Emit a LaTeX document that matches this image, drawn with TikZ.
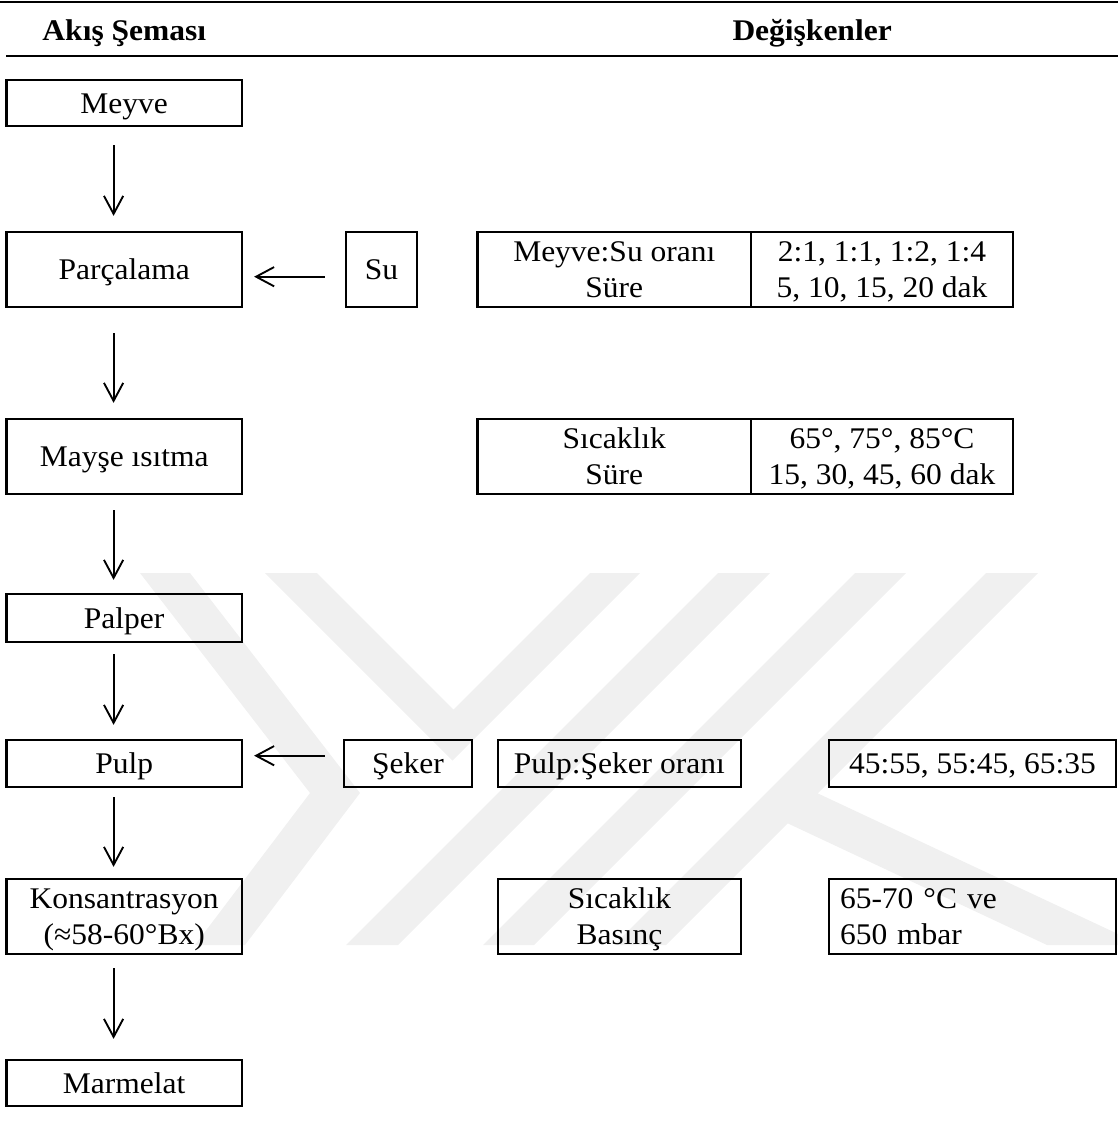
\documentclass[tikz,border=0pt]{standalone}
\usepackage{fontspec}
\setmainfont{Liberation Serif}[FakeStretch=1.05]
\usetikzlibrary{arrows.meta}
\newcommand{\mystrut}{\rule[-0.216em]{0pt}{1.107em}}
\begin{document}
\begin{tikzpicture}[x=0.4pt,y=-0.4pt,
  font=\fontsize{12pt}{14.64pt}\selectfont,
  box/.style={draw,line width=0.9pt,inner sep=0pt,align=center},
  sz/.style 2 args={minimum width=#1*0.4pt,minimum height=#2*0.4pt},
  arr/.style={line width=0.75pt,-{Straight Barb[length=7.2pt,width=7.7pt]}},
  wm/.style={fill=black!6,draw=none},
  rulel/.style={line width=0.9pt},
  head/.style={anchor=base west,inner sep=0pt,font=\fontsize{12pt}{14.64pt}\selectfont\bfseries}]
\useasboundingbox (0,0) rectangle (1118,1128);
% watermark
\fill[wm] (140,573) -- (190,573) -- (360,793) -- (245,945) -- (195,945) -- (310,793) -- cycle;
\fill[wm] (265,573) -- (317,573) -- (453.5,709.5) -- (590,573) -- (640,573) -- (452.5,760.5) -- cycle;
\fill[wm] (718,573) -- (770,573) -- (398,945) -- (346,945) -- cycle;
\fill[wm] (855,573) -- (906,573) -- (534,945) -- (483,945) -- cycle;
\fill[wm] (986,573) -- (1038,573) -- (666,945) -- (614,945) -- cycle;
\fill[wm] (817,793) -- (1118,934) -- (1118,945) -- (1047,945) -- (787,823) -- cycle;
% header
\draw[rulel] (0,1.7) -- (1118,1.7);
\draw[rulel] (6.4,56) -- (1118,56);
\node[head] (h1) at (42,40) {Akış Şeması};
\node[head] (h2) at (732,40) {Değişkenler};
% nodes
\node[box,sz={235.6}{46}] (meyve) at (124.2,103) {\mystrut Meyve};
\node[box,sz={235.6}{75}] (parc) at (124.2,269.5) {\mystrut Parçalama};
\node[box,sz={71}{75}] (su) at (381.5,269.5) {\mystrut Su};
\node[box,sz={273.4}{75}] (t1a) at (614.3,269.5) {\mystrut Meyve:Su oranı\\\mystrut Süre};
\node[box,sz={262}{75}] (t1b) at (882,269.5) {\mystrut 2:1, 1:1, 1:2, 1:4\\\mystrut 5, 10, 15, 20 dak};
\node[box,sz={235.6}{75}] (mayse) at (124.2,456.5) {\mystrut Mayşe ısıtma};
\node[box,sz={273.4}{75}] (t2a) at (614.3,456.5) {\mystrut Sıcaklık\\\mystrut Süre};
\node[box,sz={262}{75}] (t2b) at (882,456.5) {\mystrut 65°, 75°, 85°C\\\mystrut 15, 30, 45, 60 dak};
\node[box,sz={235.6}{48}] (palper) at (124.2,618) {\mystrut Palper};
\node[box,sz={235.6}{47}] (pulp) at (124.2,763.5) {\mystrut Pulp};
\node[box,sz={128}{47}] (seker) at (408,763.5) {\mystrut Şeker};
\node[box,sz={243.2}{47}] (pso) at (619.4,763.5) {\mystrut Pulp:Şeker oranı};
\node[box,sz={287}{47}] (r45) at (972.5,763.5) {\mystrut 45:55, 55:45, 65:35};
\node[box,sz={235.6}{75}] (kons) at (124.2,916.5) {\mystrut Konsantrasyon\\\mystrut (≈58-60°Bx)};
\node[box,sz={243.2}{75}] (sb) at (619.4,916.5) {\mystrut Sıcaklık\\\mystrut Basınç};
\node[box,sz={287}{75},align=left,text width=106pt] (r65) at (972.5,916.5) {\mystrut 65-70 °C ve\\\mystrut 650 mbar};
\node[box,sz={235.6}{46}] (marm) at (124.2,1083) {\mystrut Marmelat};
% arrows
\draw[arr,shorten <=7.2pt,shorten >=6pt] ([xshift=-4.24pt]meyve.south) -- ([xshift=-4.24pt]parc.north);
\draw[arr,shorten <=10pt,shorten >=6pt] ([xshift=-4.24pt]parc.south) -- ([xshift=-4.24pt]mayse.north);
\draw[arr,shorten <=6pt,shorten >=5.2pt] ([xshift=-4.24pt]mayse.south) -- ([xshift=-4.24pt]palper.north);
\draw[arr,shorten <=4.4pt,shorten >=5.6pt] ([xshift=-4.24pt]palper.south) -- ([xshift=-4.24pt]pulp.north);
\draw[arr,shorten <=3.6pt,shorten >=4.4pt] ([xshift=-4.24pt]pulp.south) -- ([xshift=-4.24pt]kons.north);
\draw[arr,shorten <=5.2pt,shorten >=8pt] ([xshift=-4.24pt]kons.south) -- ([xshift=-4.24pt]marm.north);
\draw[arr,shorten <=8pt,shorten >=4.4pt] ([yshift=-2.88pt]su.west) -- ([yshift=-2.88pt]parc.east);
\draw[arr,shorten <=7.2pt,shorten >=4.4pt] ([yshift=3.12pt]seker.west) -- ([yshift=3.12pt]pulp.east);
\end{tikzpicture}
\end{document}
